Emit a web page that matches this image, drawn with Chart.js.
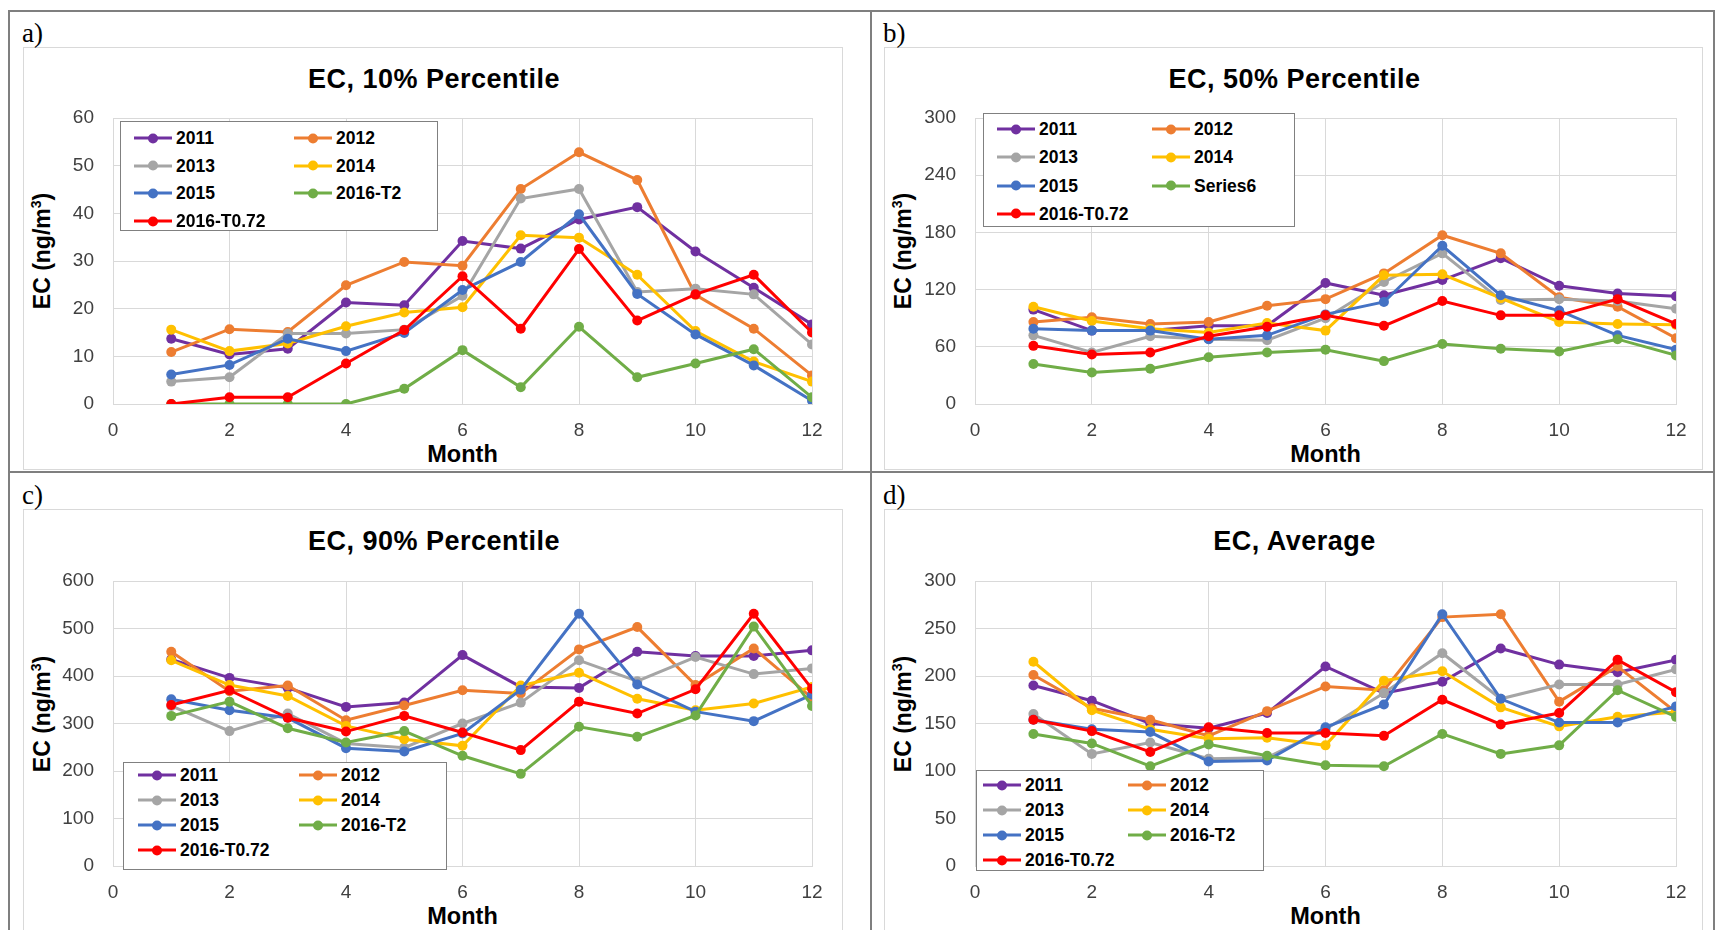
<!DOCTYPE html>
<html>
<head>
<meta charset="utf-8">
<script src="https://cdn.jsdelivr.net/npm/chart.js@4.4.0/dist/chart.umd.min.js"></script>
<style>
body { margin: 0; width: 1716px; height: 930px; background: #fff; position: relative; overflow: hidden;
       font-family: "Liberation Sans", Arial, sans-serif; color: #000; }
canvas { position: absolute; }
.frame { position: absolute; background: #7f7f7f; }
.box { position: absolute; border: 1px solid #d9d9d9; box-sizing: border-box; }
.tag { position: absolute; font-family: "Liberation Serif", "Times New Roman", serif; font-size: 27px; line-height: 1; transform: translateY(-50%); }
.ttl { position: absolute; font-weight: bold; font-size: 27px; letter-spacing: 0.5px; white-space: nowrap; transform: translate(-50%, -50%); }
.xlab { position: absolute; font-weight: bold; font-size: 23.5px; white-space: nowrap; transform: translate(-50%, -50%); }
.ylab { position: absolute; font-weight: bold; font-size: 23px; white-space: nowrap; transform: translate(-50%, -50%) rotate(-90deg); }
.ylab sup { font-size: 14px; }
.legend { position: absolute; border: 1px solid #808080; background: #fff; box-sizing: border-box; }
.item { position: absolute; display: flex; align-items: center; font-weight: bold; font-size: 17.5px; white-space: nowrap; transform: translateY(-50%); }
.mk { position: relative; width: 38px; height: 3px; margin-right: 4px; }
.mk::after { content: ''; position: absolute; left: 50%; top: 50%; width: 10px; height: 10px; border-radius: 50%;
             background: inherit; transform: translate(-50%, -50%); }
</style>
</head>
<body>
<script>
const months = [1, 2, 3, 4, 5, 6, 7, 8, 9, 10, 11, 12];
const seriesNames = ['2011', '2012', '2013', '2014', '2015', '2016-T2', '2016-T0.72'];
const seriesNamesB = ['2011', '2012', '2013', '2014', '2015', 'Series6', '2016-T0.72'];
const colors = ['#7030A0', '#ED7D31', '#A5A5A5', '#FFC000', '#4472C4', '#70AD47', '#FF0000'];

const panelTags = ['a)', 'b)', 'c)', 'd)'];
const panelTitles = ['EC, 10% Percentile', 'EC, 50% Percentile', 'EC, 90% Percentile', 'EC, Average'];
const yMax = [60, 300, 600, 300];
const yStep = [10, 60, 100, 50];

// a) 10% percentile
const p10_2011 = [13.7, 10.4, 11.6, 21.3, 20.7, 34.2, 32.6, 38.7, 41.3, 32.0, 24.4, 16.7];
const p10_2012 = [10.9, 15.7, 15.1, 24.9, 29.8, 29.0, 45.1, 52.8, 47.0, 22.9, 15.8, 6.0];
const p10_2013 = [4.7, 5.6, 14.8, 14.8, 15.6, 22.7, 43.1, 45.1, 23.5, 24.2, 23.0, 12.5];
const p10_2014 = [15.6, 11.1, 12.7, 16.3, 19.2, 20.3, 35.4, 34.9, 27.1, 15.3, 8.9, 4.7];
const p10_2015 = [6.2, 8.2, 13.7, 11.1, 14.9, 23.9, 29.8, 39.8, 23.1, 14.6, 8.1, 0.7];
const p10_T2 = [0, 0, 0, 0, 3.2, 11.3, 3.5, 16.2, 5.6, 8.5, 11.5, 1.4];
const p10_T072 = [0, 1.4, 1.4, 8.5, 15.5, 26.8, 15.8, 32.5, 17.5, 23.0, 27.1, 15.0];

// b) 50% percentile
const p50_2011 = [99, 77, 77, 82, 82, 127, 114, 130, 153, 124, 116, 113];
const p50_2012 = [86, 91, 84, 86, 103, 110, 137, 177, 158, 112, 102, 69];
const p50_2013 = [72, 54, 71, 68, 67, 90, 128, 158, 109, 110, 108, 100];
const p50_2014 = [102, 87, 79, 75, 85, 77, 135, 136, 111, 86, 84, 83];
const p50_2015 = [79, 77, 77, 68, 72, 94, 107, 166, 114, 98, 72, 57];
const p50_S6 = [42, 33, 37, 49, 54, 57, 45, 63, 58, 55, 68, 51];
const p50_T072 = [61, 52, 54, 71, 81, 93, 82, 108, 93, 93, 110, 84];

// c) 90% percentile
const p90_2011 = [435, 396, 375, 335, 344, 444, 377, 375, 451, 442, 442, 454];
const p90_2012 = [451, 368, 380, 307, 338, 370, 363, 456, 503, 381, 458, 354];
const p90_2013 = [337, 284, 321, 258, 249, 300, 344, 433, 389, 440, 404, 416];
const p90_2014 = [433, 381, 358, 295, 267, 253, 380, 407, 352, 328, 342, 377];
const p90_2015 = [351, 328, 312, 248, 241, 279, 371, 531, 382, 325, 305, 361];
const p90_T2 = [316, 346, 290, 260, 284, 232, 194, 293, 272, 317, 504, 337];
const p90_T072 = [339, 370, 312, 283, 316, 281, 244, 346, 321, 372, 531, 373];

// d) average
const avg_2011 = [190, 174, 150, 145, 161, 210, 182, 194, 229, 212, 204, 217];
const avg_2012 = [201, 166, 154, 137, 163, 189, 185, 262, 265, 173, 210, 162];
const avg_2013 = [160, 118, 130, 113, 114, 144, 182, 224, 176, 191, 191, 207];
const avg_2014 = [215, 164, 144, 134, 135, 127, 195, 205, 167, 147, 157, 162];
const avg_2015 = [154, 144, 141, 110, 111, 146, 170, 265, 176, 151, 151, 168];
const avg_T2 = [139, 129, 105, 128, 116, 106, 105, 139, 118, 127, 185, 157];
const avg_T072 = [154, 142, 120, 146, 140, 140, 137, 175, 149, 161, 217, 183];

const panelData = [
    [p10_2011, p10_2012, p10_2013, p10_2014, p10_2015, p10_T2, p10_T072],
    [p50_2011, p50_2012, p50_2013, p50_2014, p50_2015, p50_S6, p50_T072],
    [p90_2011, p90_2012, p90_2013, p90_2014, p90_2015, p90_T2, p90_T072],
    [avg_2011, avg_2012, avg_2013, avg_2014, avg_2015, avg_T2, avg_T072]
];
const panelNames = [seriesNames, seriesNamesB, seriesNames, seriesNames];

// layout (page pixels)
const boxes = [
    { x: 23, y: 47, w: 820, h: 421, left: 90, right: 31, top: 71, xh: 64 },
    { x: 884, y: 47, w: 819, h: 421, left: 91, right: 27, top: 71, xh: 64 },
    { x: 23, y: 509, w: 820, h: 421, left: 90, right: 31, top: 72, xh: 64 },
    { x: 884, y: 509, w: 819, h: 421, left: 91, right: 27, top: 72, xh: 64 }
];
const legends = [
    { x: 120, y: 121, w: 318, h: 110, c1: 13, c2: 173, r1: 16, dr: 27.7 },
    { x: 983, y: 113, w: 312, h: 114, c1: 13, c2: 168, r1: 15, dr: 28.3 },
    { x: 123, y: 762, w: 324, h: 108, c1: 14, c2: 175, r1: 12, dr: 25 },
    { x: 976, y: 770, w: 288, h: 101, c1: 6, c2: 151, r1: 14, dr: 25 }
];

function addEl(cls, html, css) {
    const el = document.createElement('div');
    el.className = cls;
    el.innerHTML = html;
    Object.assign(el.style, css);
    document.body.appendChild(el);
    return el;
}

// outer frame
addEl('frame', '', { left: '8px', top: '10px', width: '1707px', height: '2px' });
addEl('frame', '', { left: '8px', top: '471px', width: '1707px', height: '2px' });
addEl('frame', '', { left: '8px', top: '10px', width: '2px', height: '920px' });
addEl('frame', '', { left: '870px', top: '10px', width: '2px', height: '920px' });
addEl('frame', '', { left: '1713px', top: '10px', width: '2px', height: '920px' });

const tickFont = { family: '"Liberation Sans", Arial, sans-serif', size: 19 };

boxes.forEach((b, p) => {
    addEl('box', '', { left: b.x + 'px', top: b.y + 'px', width: b.w + 'px', height: (b.h + 2) + 'px' });
    addEl('tag', panelTags[p], { left: (b.x - 1) + 'px', top: (b.y - 14) + 'px' });

    const plotL = b.x + b.left, plotR = b.x + b.w - b.right;
    const plotT = b.y + b.top, plotB = b.y + b.h - b.xh;
    addEl('ttl', panelTitles[p], { left: (b.x + b.w / 2 + 1) + 'px', top: (b.y + 32) + 'px' });
    addEl('ylab', 'EC (ng/m<sup>3</sup>)', { left: (b.x + 19) + 'px', top: ((plotT + plotB) / 2 - 10) + 'px' });
    addEl('xlab', 'Month', { left: ((plotL + plotR) / 2) + 'px', top: (b.y + b.h - 14) + 'px' });

    const canvas = document.createElement('canvas');
    canvas.width = b.w;
    canvas.height = b.h;
    canvas.style.left = b.x + 'px';
    canvas.style.top = b.y + 'px';
    document.body.appendChild(canvas);

    const data = panelData[p];
    new Chart(canvas.getContext('2d'), {
        type: 'line',
        data: {
            datasets: data.map((vals, i) => ({
                label: panelNames[p][i],
                data: months.map((m, j) => ({ x: m, y: vals[j] })),
                borderColor: colors[i],
                backgroundColor: colors[i],
                borderWidth: 3,
                pointRadius: 5,
                pointBorderWidth: 0,
                tension: 0,
                order: data.length - i
            }))
        },
        options: {
            responsive: false,
            animation: false,
            events: [],
            layout: { padding: { left: 0, top: b.top, right: b.right, bottom: 0 } },
            plugins: { legend: { display: false }, tooltip: { enabled: false } },
            scales: {
                x: {
                    type: 'linear', min: 0, max: 12,
                    ticks: { stepSize: 2, padding: 15, font: tickFont, color: '#404040' },
                    grid: { color: '#d9d9d9', drawTicks: false },
                    border: { color: '#d9d9d9' },
                    afterFit: s => { s.height = b.xh; }
                },
                y: {
                    min: 0, max: yMax[p],
                    ticks: { stepSize: yStep[p], padding: 19, font: tickFont, color: '#404040' },
                    grid: { color: '#d9d9d9', drawTicks: false },
                    border: { color: '#d9d9d9' },
                    afterFit: s => { s.width = b.left; }
                }
            }
        }
    });

    // legend box inside the plot
    const lg = legends[p];
    const box = addEl('legend', '', { left: lg.x + 'px', top: lg.y + 'px', width: lg.w + 'px', height: lg.h + 'px' });
    panelNames[p].forEach((name, i) => {
        const it = document.createElement('div');
        it.className = 'item';
        it.style.left = (i % 2 === 0 ? lg.c1 : lg.c2) + 'px';
        it.style.top = (lg.r1 + Math.floor(i / 2) * lg.dr) + 'px';
        it.innerHTML = `<span class="mk" style="background:${colors[i]}"></span><span>${name}</span>`;
        box.appendChild(it);
    });
});
</script>
</body>
</html>
